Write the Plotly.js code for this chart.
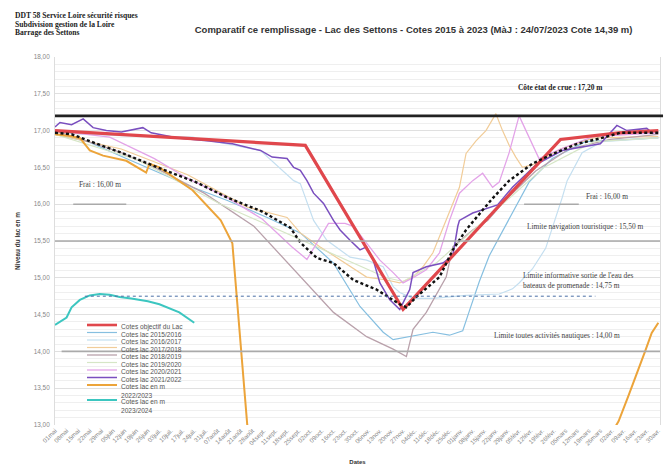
<!DOCTYPE html>
<html><head><meta charset="utf-8">
<script src="https://cdn.plot.ly/plotly-3.0.1.min.js"></script>
<style>html,body{margin:0;padding:0;background:#fff}#chart{width:665px;height:465px}</style>
</head><body><div id="chart"></div>
<script>
// Week tick labels (day index = 7*i from 01 mai)
const tickLabels = ["01mai","08mai","15mai","22mai","29mai","05juin","12juin","19juin","26juin","03juil.","10juil.","17juil.","24juil.","31juil.","07août","14août","21août","28août","04sept.","11sept.","18sept.","25sept.","02oct.","09oct.","16oct.","23oct.","30oct.","06nov.","13nov.","20nov.","27nov.","04déc.","11déc.","18déc.","25déc.","01janv.","08janv.","15janv.","22janv.","29janv.","05févr.","12févr.","19févr.","26févr.","05mars","12mars","19mars","26mars","02avr.","09avr.","16avr.","23avr.","30avr."];

const seriesNames = ["Cotes objectif du Lac","Cotes lac 2015/2016","Cotes lac 2016/2017","Cotes lac 2017/2018","Cotes lac 2018/2019","Cotes lac 2019/2020","Cotes lac 2020/2021","Cotes lac 2021/2022","Cotes lac en m<br>2022/2023","Cotes lac en m<br>2023/2024"];

// days since 01 May, lake level (m)
const objDays = [0, 151, 210, 305, 340, 364];
const objVals = [17.00, 16.80, 14.57, 16.88, 16.97, 17.00];

const d1516 = [0, 20, 43, 83, 104, 128, 148, 168, 184, 198, 204, 214, 228, 238, 246, 250, 256, 262, 268, 276, 286, 300, 320, 364];
const v1516 = [16.95, 16.85, 16.62, 16.23, 16.05, 15.82, 15.61, 15.20, 14.61, 14.26, 14.16, 14.20, 14.26, 14.22, 14.28, 14.55, 14.95, 15.30, 15.55, 15.90, 16.30, 16.62, 16.85, 16.90];

const d1617 = [0, 40, 83, 124, 144, 148, 156, 164, 178, 188, 198, 204, 208, 216, 228, 248, 268, 276, 280, 288, 296, 302, 306, 309, 318, 330, 364];
const v1617 = [16.97, 16.93, 16.91, 16.73, 16.32, 16.28, 15.78, 15.51, 15.28, 15.24, 15.15, 14.88, 14.80, 14.72, 14.72, 14.76, 14.78, 14.85, 14.93, 15.12, 15.40, 15.80, 16.09, 16.32, 16.70, 16.85, 16.90];

const d1718 = [0, 40, 80, 116, 140, 148, 160, 178, 188, 200, 208, 216, 222, 228, 236, 244, 248, 254, 260, 264, 266, 270, 274, 278, 282, 290, 305, 325, 364];
const v1718 = [16.95, 16.75, 16.40, 15.96, 15.82, 15.61, 15.42, 15.15, 15.01, 14.97, 14.93, 15.01, 15.15, 15.34, 15.78, 16.23, 16.69, 16.86, 17.00, 17.15, 17.23, 17.00, 16.80, 16.64, 16.50, 16.55, 16.75, 16.90, 16.92];

const d1819 = [0, 20, 40, 60, 90, 120, 148, 168, 188, 204, 212, 216, 224, 232, 236, 240, 252, 261, 268, 276, 290, 310, 335, 364];
const v1819 = [17.00, 16.85, 16.70, 16.50, 16.15, 15.70, 15.01, 14.53, 14.20, 14.03, 13.93, 14.30, 14.53, 14.84, 15.01, 15.42, 15.65, 15.78, 15.96, 16.15, 16.45, 16.75, 16.88, 16.95];

const d1920 = [0, 50, 100, 150, 200, 210, 230, 260, 295, 325, 364];
const v1920 = [16.95, 16.60, 16.00, 15.50, 15.00, 14.95, 15.20, 15.80, 16.50, 16.85, 16.90];

const d2021 = [0, 20, 33, 60, 80, 104, 125, 143, 152, 160, 165, 175, 180, 188, 196, 204, 210, 216, 224, 232, 238, 244, 252, 258, 264, 268, 274, 280, 286, 292, 305, 325, 364];
const v2021 = [17.00, 16.95, 16.91, 16.62, 16.35, 16.09, 15.80, 15.42, 15.25, 15.55, 15.74, 15.74, 15.70, 15.47, 15.24, 15.07, 14.93, 15.00, 15.11, 15.34, 15.78, 16.15, 16.32, 16.42, 16.23, 16.30, 16.70, 17.20, 16.90, 16.62, 16.75, 16.92, 16.97];

const d2122 = [0, 3, 10, 17, 23, 31, 40, 53, 58, 74, 93, 107, 124, 131, 140, 144, 148, 152, 156, 162, 168, 172, 178, 184, 188, 192, 196, 202, 208, 214, 216, 224, 234, 240, 243, 244, 252, 261, 267, 276, 291, 306, 329, 339, 345, 357, 361];
const v2122 = [17.05, 17.11, 17.08, 17.16, 17.04, 17.00, 16.98, 17.04, 16.97, 16.90, 16.86, 16.82, 16.73, 16.64, 16.62, 16.50, 16.46, 16.32, 16.15, 16.01, 15.78, 15.65, 15.51, 15.38, 15.42, 15.24, 14.93, 14.70, 14.57, 14.84, 15.07, 15.15, 15.20, 15.30, 15.70, 15.78, 15.88, 15.95, 15.99, 16.23, 16.55, 16.73, 16.82, 17.07, 17.00, 17.03, 16.96];

const d2223 = [0, 8, 15, 21, 29, 43, 55, 57, 63, 83, 100, 107, 116, 119, null, 336, 340, 346, 352, 356, 360, 364];
const v2223 = [16.95, 16.93, 16.90, 16.73, 16.66, 16.59, 16.43, 16.55, 16.50, 16.19, 15.78, 15.47, 13.00, 12.50, null, 12.90, 13.05, 13.40, 13.75, 14.00, 14.25, 14.39];

const d2324 = [0, 7, 10, 15, 21, 27, 33, 39, 46, 51, 56, 63, 75, 84];
const v2324 = [14.36, 14.46, 14.60, 14.70, 14.76, 14.78, 14.77, 14.74, 14.72, 14.70, 14.68, 14.64, 14.53, 14.39];

const avgDays = [0, 10, 23, 40, 63, 85, 104, 125, 142, 148, 158, 168, 180, 194, 208, 212, 218, 232, 240, 248, 258, 264, 274, 288, 300, 315, 330, 341, 364];
const avgVals = [16.97, 16.95, 16.84, 16.70, 16.49, 16.30, 16.09, 15.90, 15.68, 15.48, 15.27, 15.20, 14.97, 14.84, 14.64, 14.60, 14.74, 15.01, 15.38, 15.65, 15.92, 16.08, 16.32, 16.55, 16.68, 16.82, 16.90, 16.97, 16.97];

// reference levels (m)
const coteCrue = 17.20, coteFrai = 16.00, coteNav = 15.50, coteBateaux = 14.75, coteNautique = 14.00;

const SANS = "Liberation Sans, Arial, sans-serif";
const SERIF = "Liberation Serif, Times New Roman, serif";

const styles = [
  {color:'#e0474c', width:3.2},
  {color:'#86bfe0', width:1.2},
  {color:'#c4dff0', width:1.2},
  {color:'#f1cc98', width:1.2},
  {color:'#b9a1ab', width:1.3},
  {color:'#d6e6c6', width:1.2},
  {color:'#e3a3e8', width:1.3},
  {color:'#7a4fbf', width:1.5},
  {color:'#eca43a', width:2.0},
  {color:'#3cc6c0', width:2.0}
];
const xs = [objDays,d1516,d1617,d1718,d1819,d1920,d2021,d2122,d2223,d2324];
const ys = [objVals,v1516,v1617,v1718,v1819,v1920,v2021,v2122,v2223,v2324];
const drawOrder = [1,2,3,4,5,6,7,0,8,9];

const traces = drawOrder.map(i => ({
  type:'scatter', mode:'lines', x:xs[i], y:ys[i], name:seriesNames[i],
  line:{color:styles[i].color, width:styles[i].width}, connectgaps:false, hoverinfo:'skip'
}));
traces.push({type:'scatter', mode:'lines', x:avgDays, y:avgVals, name:'moyenne',
  line:{color:'#111', width:2.4, dash:'3px,2.5px'}, hoverinfo:'skip'});

// plot geometry (px)
const L=55, R=5, T=57, B=40, W=665, H=465;
const pw = W-L-R, ph = H-T-B;
const px2paperX = p => (p-L)/pw;
const py2paperY = p => (H-B-p)/ph;

const shapes = [
  {type:'line', xref:'paper', yref:'y', x0:0, x1:1.005, y0:coteCrue, y1:coteCrue, line:{color:'#222', width:2.6}},
  {type:'line', xref:'paper', yref:'y', x0:0, x1:1, y0:coteNav, y1:coteNav, line:{color:'#aaaaaa', width:1.6}},
  {type:'line', xref:'x', yref:'y', x0:4, x1:365, y0:coteNautique, y1:coteNautique, line:{color:'#aaaaaa', width:1.6}},
  {type:'line', xref:'x', yref:'y', x0:11, x1:43, y0:coteFrai, y1:coteFrai, line:{color:'#aaaaaa', width:1.6}},
  {type:'line', xref:'x', yref:'y', x0:283, x1:316, y0:coteFrai, y1:coteFrai, line:{color:'#aaaaaa', width:1.6}},
  {type:'line', xref:'x', yref:'y', x0:18, x1:326, y0:coteBateaux, y1:coteBateaux, line:{color:'#4a6fa5', width:1, dash:'dot'}}
];

const annotations = [
  {xref:'paper', yref:'paper', x:px2paperX(13), y:py2paperY(15), xanchor:'left', yanchor:'middle', showarrow:false, align:'left', text:'<b>DDT 58 Service Loire sécurité risques</b>', font:{family:SERIF, size:7.6, color:'#222'}},
  {xref:'paper', yref:'paper', x:px2paperX(13), y:py2paperY(24), xanchor:'left', yanchor:'middle', showarrow:false, align:'left', text:'<b>Subdivision gestion de la Loire</b>', font:{family:SERIF, size:7.6, color:'#222'}},
  {xref:'paper', yref:'paper', x:px2paperX(13), y:py2paperY(33), xanchor:'left', yanchor:'middle', showarrow:false, align:'left', text:'<b>Barrage des Settons</b>', font:{family:SERIF, size:7.6, color:'#222'}},
  {xref:'x', yref:'y', x:305, y:17.58, showarrow:false, text:'<b>Côte état de crue : 17,20 m</b>', font:{family:SERIF, size:7.4, color:'#222'}},
  {xref:'x', yref:'y', x:27, y:16.27, showarrow:false, text:'Frai : 16,00 m', font:{family:SERIF, size:7.4, color:'#444'}},
  {xref:'x', yref:'y', x:333, y:16.10, showarrow:false, text:'Frai : 16,00 m', font:{family:SERIF, size:7.4, color:'#444'}},
  {xref:'x', yref:'y', x:320, y:15.70, showarrow:false, text:'Limite navigation touristique : 15,50 m', font:{family:SERIF, size:7.4, color:'#444'}},
  {xref:'x', yref:'y', x:281, y:14.97, xanchor:'left', showarrow:false, align:'left', text:"Limite informative sortie de l'eau des<br>bateaux de promenade : 14,75 m", font:{family:SERIF, size:7.4, color:'#444'}},
  {xref:'x', yref:'y', x:303, y:14.22, showarrow:false, text:'Limite toutes activités nautiques : 14,00 m', font:{family:SERIF, size:7.4, color:'#444'}}
];

// compact legend built from the series list
let k = 0;
seriesNames.forEach((nm, i) => {
  const yc = 325 + 7.5*k;
  shapes.push({type:'line', xref:'paper', yref:'paper', x0:px2paperX(87), x1:px2paperX(117), y0:py2paperY(yc), y1:py2paperY(yc), line:{color:styles[i].color, width:Math.min(styles[i].width,2.6)}});
  annotations.push({xref:'paper', yref:'paper', x:px2paperX(119), y:py2paperY(yc - 4), xanchor:'left', yanchor:'top', showarrow:false, align:'left', text:nm, font:{family:SANS, size:6.6, color:'#555'}});
  k += nm.includes('<br>') ? 2 : 1;
});

const layout = {
  width:W, height:H, margin:{l:L, r:R, t:T, b:B},
  paper_bgcolor:'#fff', plot_bgcolor:'#fff', showlegend:false,
  title:{text:'<b>Comparatif ce remplissage - Lac des Settons - Cotes 2015 à 2023 (MàJ : 24/07/2023 Cote 14,39 m)</b>', xref:'container', yref:'container', x:0.622, y:1-30/465, xanchor:'center', yanchor:'middle', font:{family:SANS, size:9.5, color:'#333'}},
  separators:', ',
  xaxis:{range:[0,365], tickvals:tickLabels.map((_,i)=>7*i), ticktext:tickLabels, tickangle:-45, tickfont:{family:SANS, size:6.2, color:'#888'}, showgrid:false, zeroline:false, showline:false, ticks:'', title:{text:'<b>Dates</b>', font:{family:SANS, size:6, color:'#333'}, standoff:14}},
  yaxis:{range:[13,18], tick0:13, dtick:0.5, tickformat:'.2f', tickfont:{family:SANS, size:6.4, color:'#888'}, gridcolor:'#e0e0e0', gridwidth:1, minor:{dtick:0.1, showgrid:true, gridcolor:'#efefef'}, showline:true, mirror:true, linecolor:'#dddddd', zeroline:false, ticks:'', ticklabelstandoff:3, title:{text:'<b>Niveau du lac en m</b>', font:{family:SANS, size:6.4, color:'#333'}, standoff:12}},
  shapes:shapes, annotations:annotations
};

Plotly.newPlot('chart', traces, layout, {displayModeBar:false, staticPlot:true});
</script>
</body></html>
